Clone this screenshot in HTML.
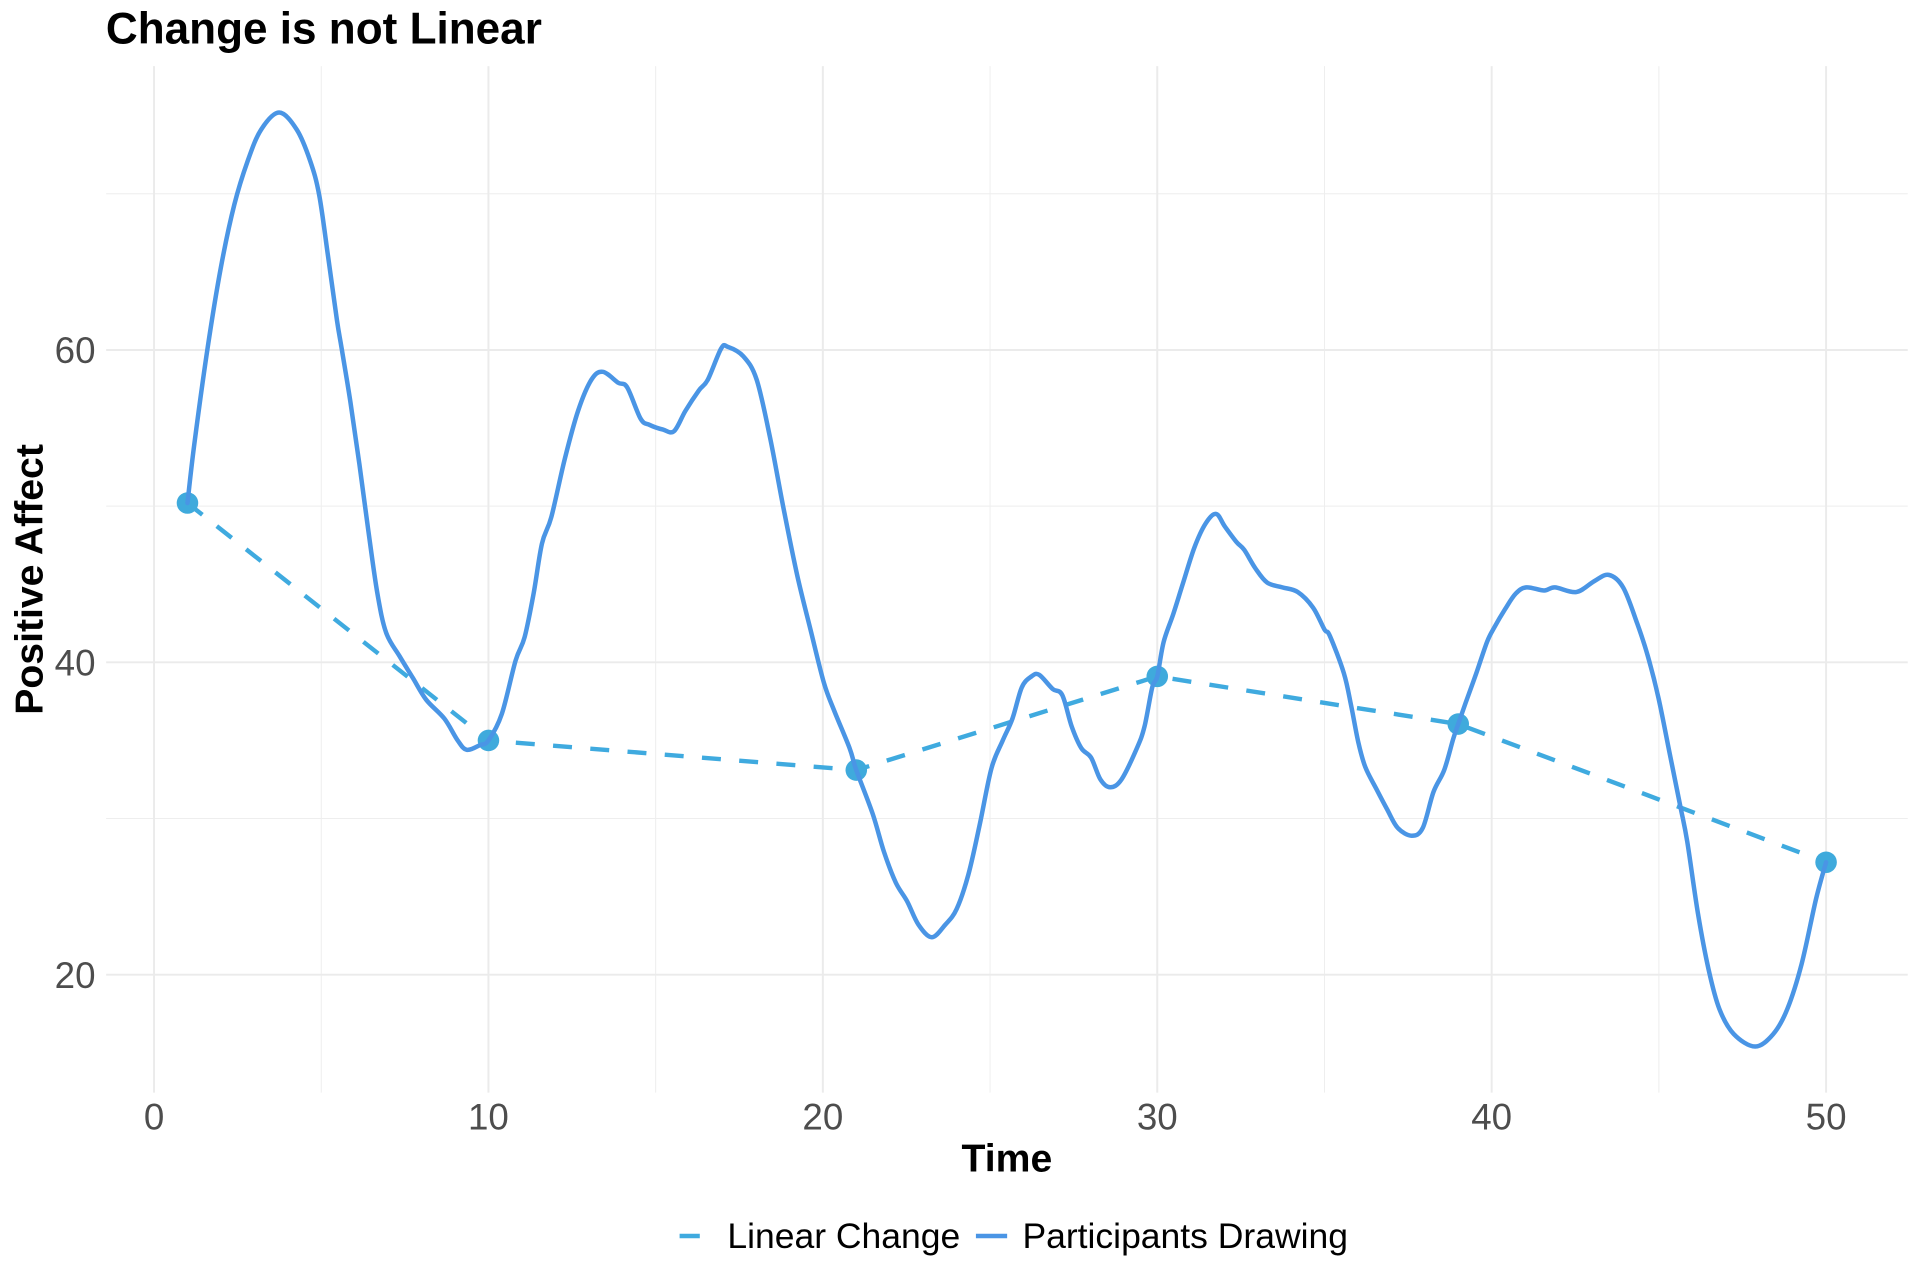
<!DOCTYPE html>
<html>
<head>
<meta charset="utf-8">
<style>
  html, body { margin: 0; padding: 0; background: #ffffff; }
  svg { display: block; }
  text { font-family: "Liberation Sans", Arial, sans-serif; }
</style>
</head>
<body>
<svg width="1920" height="1280" viewBox="0 0 1568 1045.333" xmlns="http://www.w3.org/2000/svg">
  <rect x="0" y="0" width="1568" height="1045.333" fill="#ffffff"/>

  <!-- minor gridlines -->
  <g stroke="#EEEEEE" stroke-width="0.8" fill="none">
    <line x1="86.7" y1="158.25" x2="1558" y2="158.25"/>
    <line x1="86.7" y1="413.35" x2="1558" y2="413.35"/>
    <line x1="86.7" y1="668.45" x2="1558" y2="668.45"/>
    <line x1="262.35" y1="54" x2="262.35" y2="892.3"/>
    <line x1="535.45" y1="54" x2="535.45" y2="892.3"/>
    <line x1="808.55" y1="54" x2="808.55" y2="892.3"/>
    <line x1="1081.65" y1="54" x2="1081.65" y2="892.3"/>
    <line x1="1354.75" y1="54" x2="1354.75" y2="892.3"/>
  </g>
  <!-- major gridlines -->
  <g stroke="#EBEBEB" stroke-width="1.6" fill="none">
    <line x1="86.7" y1="285.8" x2="1558" y2="285.8"/>
    <line x1="86.7" y1="540.9" x2="1558" y2="540.9"/>
    <line x1="86.7" y1="796" x2="1558" y2="796"/>
    <line x1="125.8" y1="54" x2="125.8" y2="892.3"/>
    <line x1="398.9" y1="54" x2="398.9" y2="892.3"/>
    <line x1="672" y1="54" x2="672" y2="892.3"/>
    <line x1="945.1" y1="54" x2="945.1" y2="892.3"/>
    <line x1="1218.2" y1="54" x2="1218.2" y2="892.3"/>
    <line x1="1491.3" y1="54" x2="1491.3" y2="892.3"/>
  </g>

  <!-- dashed linear change -->
  <polyline points="153.1,410.8 398.9,604.7 699.3,628.9 945.1,552.4 1190.9,591.3 1491.3,704.2"
    fill="none" stroke="#3FAADF" stroke-width="3.6" stroke-dasharray="15.5 15" stroke-linecap="butt" stroke-linejoin="round"/>

  <!-- points -->
  <g fill="#3FAADC">
    <circle cx="153.1" cy="410.8" r="8.8"/>
    <circle cx="398.9" cy="604.7" r="8.8"/>
    <circle cx="699.3" cy="628.9" r="8.8"/>
    <circle cx="945.1" cy="552.4" r="8.8"/>
    <circle cx="1190.9" cy="591.3" r="8.8"/>
    <circle cx="1491.3" cy="704.2" r="8.8"/>
  </g>

  <!-- participants drawing (data coords) -->
  <g id="curveGroup" transform="matrix(27.31 0 0 -12.755 125.8 1051.1)">
    <polyline id="curve" fill="none" stroke="#4A95E5" stroke-width="4.5" vector-effect="non-scaling-stroke"
      stroke-linejoin="round" stroke-linecap="round"
      points="1.0,50.2 1.2,53.9 1.6,60.1 2.0,65.3 2.4,69.3 2.8,72.1 3.2,74.1 3.74,75.2 4.27,74.1 4.67,72.1 4.94,69.9 5.21,65.9 5.47,61.9 5.61,60.1 5.87,56.7 6.14,52.7 6.41,48.4 6.68,44.4 6.94,41.9 7.34,40.4 7.74,39.0 8.14,37.6 8.68,36.4 9.08,35.0 9.35,34.4 9.75,34.7 10.0,35.0 10.4,36.7 10.81,40.1 11.08,41.6 11.35,44.4 11.6,47.6 11.88,49.3 12.28,53.0 12.68,56.1 13.08,58.1 13.42,58.6 13.88,57.9 14.15,57.6 14.55,55.6 14.82,55.2 15.22,54.9 15.55,54.8 15.89,56.1 16.29,57.4 16.56,58.1 16.96,60.1 17.16,60.2 17.62,59.6 18.02,58.1 18.42,54.4 18.82,49.9 19.23,45.6 19.63,42.1 20.03,38.7 20.34,36.9 20.8,34.5 21.0,33.1 21.49,30.3 21.83,27.85 22.18,25.9 22.52,24.7 22.86,23.2 23.26,22.4 23.66,23.2 24.0,24.2 24.35,26.4 24.69,29.6 25.04,33.2 25.38,35.0 25.67,36.4 25.95,38.4 26.24,39.1 26.47,39.2 26.87,38.3 27.16,37.9 27.44,35.9 27.73,34.5 28.02,33.9 28.3,32.5 28.59,32.0 28.93,32.5 29.39,34.5 29.62,35.9 29.85,38.4 30.0,39.1 30.19,41.3 30.48,43.1 30.76,45.0 31.11,47.35 31.45,48.9 31.76,49.5 32.02,48.7 32.37,47.7 32.6,47.2 32.94,46.0 33.29,45.1 33.74,44.8 34.2,44.5 34.66,43.5 35.0,42.1 35.16,41.7 35.58,39.3 35.8,37.2 36.01,34.9 36.22,33.3 36.55,31.9 36.87,30.6 37.19,29.4 37.61,28.9 37.94,29.4 38.26,31.7 38.58,33.1 38.85,35.1 39.0,36.05 39.22,37.4 39.54,39.3 39.86,41.3 40.07,42.2 40.4,43.4 40.72,44.4 41.04,44.8 41.57,44.6 41.89,44.8 42.53,44.5 43.07,45.2 43.5,45.6 43.93,44.8 44.35,42.5 44.67,40.4 44.99,37.7 45.32,34.2 45.64,30.8 45.85,28.5 46.17,23.9 46.49,20.3 46.81,17.8 47.24,16.2 47.88,15.4 48.42,16.2 48.84,17.8 49.27,20.7 49.7,24.85 50.0,27.2"/>
  </g>

  <!-- title -->
  <text x="86.5" y="35.4" font-size="36" font-weight="bold" fill="#000000">Change is not Linear</text>

  <!-- y tick labels -->
  <g font-size="30" fill="#4D4D4D" text-anchor="end">
    <text x="78" y="296.5">60</text>
    <text x="78" y="551.6">40</text>
    <text x="78" y="806.7">20</text>
  </g>

  <!-- x tick labels -->
  <g font-size="30" fill="#4D4D4D" text-anchor="middle">
    <text x="125.8" y="922.6">0</text>
    <text x="398.9" y="922.6">10</text>
    <text x="672" y="922.6">20</text>
    <text x="945.1" y="922.6">30</text>
    <text x="1218.2" y="922.6">40</text>
    <text x="1491.3" y="922.6">50</text>
  </g>

  <!-- axis titles -->
  <text x="822.3" y="956.9" font-size="32" font-weight="bold" text-anchor="middle" fill="#000000">Time</text>
  <text transform="translate(34.8,473.2) rotate(-90)" x="0" y="0" font-size="32" font-weight="bold" text-anchor="middle" fill="#000000">Positive Affect</text>

  <!-- legend -->
  <line x1="555" y1="1009.4" x2="571.5" y2="1009.4" stroke="#3FAADF" stroke-width="3.6"/>
  <text x="594" y="1019.4" font-size="29" fill="#000000">Linear Change</text>
  <line x1="797" y1="1009.4" x2="822.5" y2="1009.4" stroke="#4A95E5" stroke-width="3.6"/>
  <text x="835" y="1019.4" font-size="29" fill="#000000">Participants Drawing</text>
</svg>
<script>
(function(){
  try {
    var pl = document.getElementById('curve');
    var raw = pl.getAttribute('points').trim().split(/\s+/).map(function(s){var a=s.split(',');return [parseFloat(a[0]),parseFloat(a[1])];});
    var n = raw.length;
    var d = 'M' + raw[0][0] + ',' + raw[0][1];
    for (var i = 0; i < n - 1; i++) {
      var p0 = raw[i > 0 ? i - 1 : i], p1 = raw[i], p2 = raw[i + 1], p3 = raw[i + 2 < n ? i + 2 : i + 1];
      var c1x = p1[0] + (p2[0] - p0[0]) / 6, c1y = p1[1] + (p2[1] - p0[1]) / 6;
      var c2x = p2[0] - (p3[0] - p1[0]) / 6, c2y = p2[1] - (p3[1] - p1[1]) / 6;
      d += ' C' + c1x.toFixed(4) + ',' + c1y.toFixed(4) + ' ' + c2x.toFixed(4) + ',' + c2y.toFixed(4) + ' ' + p2[0] + ',' + p2[1];
    }
    var ns = 'http://www.w3.org/2000/svg';
    var path = document.createElementNS(ns, 'path');
    path.setAttribute('d', d);
    path.setAttribute('fill', 'none');
    path.setAttribute('stroke', '#4A95E5');
    path.setAttribute('stroke-width', '4.5');
    path.setAttribute('vector-effect', 'non-scaling-stroke');
    path.setAttribute('stroke-linejoin', 'round');
    path.setAttribute('stroke-linecap', 'round');
    pl.parentNode.replaceChild(path, pl);
  } catch (e) {}
})();
</script>
</body>
</html>
